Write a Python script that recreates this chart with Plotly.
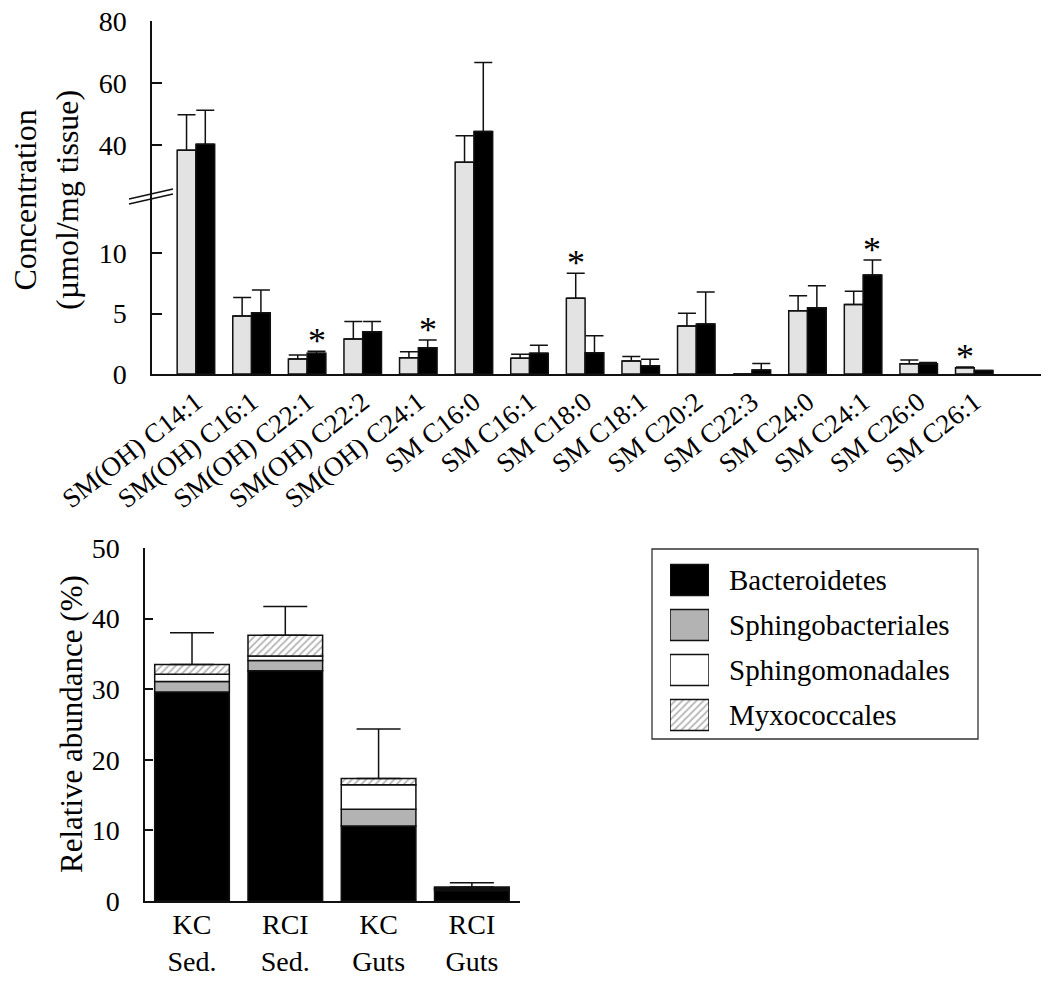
import plotly.graph_objects as go

# ---------------- data ----------------
lipids = ["SM(OH) C14:1", "SM(OH) C16:1", "SM(OH) C22:1", "SM(OH) C22:2", "SM(OH) C24:1",
          "SM C16:0", "SM C16:1", "SM C18:0", "SM C18:1", "SM C20:2", "SM C22:3",
          "SM C24:0", "SM C24:1", "SM C26:0", "SM C26:1"]
grey_vals = [38.3, 4.8, 1.24, 2.9, 1.35, 34.5, 1.3, 6.27, 1.08, 3.98, 0.0, 5.25, 5.75, 0.85, 0.52]
grey_err = [11.5, 1.53, 0.33, 1.46, 0.5, 8.5, 0.33, 2.07, 0.38, 1.05, 0.0, 1.24, 1.1, 0.3, 0.05]
black_vals = [40.3, 5.08, 1.71, 3.5, 2.18, 44.4, 1.71, 1.77, 0.69, 4.14, 0.33, 5.5, 8.2, 0.85, 0.28]
black_err = [10.9, 1.88, 0.17, 0.86, 0.64, 22.2, 0.67, 1.41, 0.53, 2.66, 0.53, 1.82, 1.25, 0.1, 0.0]
sig_lipids = ["SM(OH) C22:1", "SM(OH) C24:1", "SM C18:0", "SM C24:1", "SM C26:1"]
sig_series = ["black", "black", "grey", "black", "grey"]
top_lower_ticks = [0, 5, 10]
top_upper_ticks = [40, 60, 80]

sites = ["KC<br>Sed.", "RCI<br>Sed.", "KC<br>Guts", "RCI<br>Guts"]
bacteroidetes = [29.6, 32.6, 10.64, 1.5]
sphingobacteriales = [1.5, 1.45, 2.37, 0.2]
sphingomonadales = [1.0, 0.65, 3.45, 0.15]
myxococcales = [1.4, 2.95, 0.9, 0.15]
total_err = [4.5, 4.05, 7.0, 0.6]
taxa = ["Bacteroidetes", "Sphingobacteriales", "Sphingomonadales", "Myxococcales"]
bottom_ticks = [0, 10, 20, 30, 40, 50]

# ---------------- helpers ----------------
W, H = 1050, 985
def px(x):
    return x / W
def py(y):
    return 1 - y / H

FONT = "Liberation Serif"
LINE = "#111111"
GREY_LIGHT = "#e3e3e3"
GREY_MID = "#b3b3b3"

fig = go.Figure()

# ---------------- top panel (broken axis: y lower, y2 upper) ----------------
bw = 0.3375
for yax in ["y", "y2"]:
    fig.add_trace(go.Bar(
        x=lipids, y=grey_vals, xaxis="x", yaxis=yax, width=bw, offset=-bw,
        marker=dict(color=GREY_LIGHT, line=dict(color=LINE, width=1.5)),
        error_y=dict(type="data", symmetric=False, array=grey_err,
                     arrayminus=[0] * len(grey_err), color=LINE, thickness=1.5, width=9),
        showlegend=False, hoverinfo="skip"))
    fig.add_trace(go.Bar(
        x=lipids, y=black_vals, xaxis="x", yaxis=yax, width=bw, offset=0,
        marker=dict(color="#000000", line=dict(color=LINE, width=1.5)),
        error_y=dict(type="data", symmetric=False, array=black_err,
                     arrayminus=[0] * len(black_err), color=LINE, thickness=1.5, width=9),
        showlegend=False, hoverinfo="skip"))

# significance asterisks
for lip, ser in zip(sig_lipids, sig_series):
    i = lipids.index(lip)
    if ser == "grey":
        xpos, ytop = i - bw / 2, grey_vals[i] + grey_err[i]
    else:
        xpos, ytop = i + bw / 2, black_vals[i] + black_err[i]
    fig.add_annotation(x=xpos, y=ytop, xref="x", yref="y", text="*", showarrow=False,
                       xanchor="center", yanchor="bottom", yshift=-12,
                       font=dict(family=FONT, size=36, color="#000"))

# ---------------- bottom panel (stacked) ----------------
series = [
    (bacteroidetes, dict(color="#000000")),
    (sphingobacteriales, dict(color=GREY_MID)),
    (sphingomonadales, dict(color="#ffffff")),
    (myxococcales, dict(color="#ffffff",
                        pattern=dict(shape="/", fgcolor="#6e6e6e", bgcolor="#ffffff",
                                     size=5, solidity=0.35))),
]
base = [0.0] * len(sites)
for k, (vals, mk) in enumerate(series):
    is_top = (k == len(series) - 1)
    fig.add_trace(go.Bar(
        x=sites, y=vals, base=list(base), xaxis="x2", yaxis="y3", width=0.8, offset=-0.4,
        marker=dict(line=dict(color=LINE, width=1.5), **mk),
        error_y=(dict(type="data", symmetric=False, array=total_err,
                      arrayminus=[0] * len(total_err), color=LINE, thickness=1.5, width=22)
                 if is_top else dict(visible=False)),
        name=taxa[k], showlegend=False, hoverinfo="skip"))
    base = [b + v for b, v in zip(base, vals)]

# ---------------- custom legend (swatches on hidden axis) ----------------
for k, (vals, mk) in enumerate(series):
    fig.add_trace(go.Bar(
        x=[1], y=[k], base=0, orientation="h", xaxis="x3", yaxis="y4", width=0.69,
        marker=dict(line=dict(color=LINE, width=1.5), **mk),
        showlegend=False, hoverinfo="skip"))
    fig.add_annotation(x=px(727), y=k, xref="paper", yref="y4", text=taxa[k],
                       showarrow=False, xanchor="left", yanchor="middle",
                       font=dict(family=FONT, size=29, color="#000"))

# legend box
fig.add_shape(type="rect", xref="paper", yref="paper",
              x0=px(652), x1=px(978), y0=py(739), y1=py(549),
              line=dict(color="#333333", width=1.3), fillcolor="rgba(0,0,0,0)", layer="below")

# axis break marks
for dy in (0, 5):
    fig.add_shape(type="line", xref="paper", yref="paper",
                  x0=px(129), y0=py(204 - dy), x1=px(173), y1=py(194 - dy),
                  line=dict(color=LINE, width=1.5))

# y titles
fig.add_annotation(x=px(46), y=py(200), xref="paper", yref="paper",
                   text="Concentration<br>(µmol/mg tissue)", textangle=-90, showarrow=False,
                   xanchor="center", yanchor="middle",
                   font=dict(family=FONT, size=32, color="#000"))
fig.add_annotation(x=px(71), y=py(724), xref="paper", yref="paper",
                   text="Relative abundance (%)", textangle=-90, showarrow=False,
                   xanchor="center", yanchor="middle",
                   font=dict(family=FONT, size=31, color="#000"))

tickfont = dict(family=FONT, size=28, color="#000")
common_y = dict(showgrid=False, zeroline=False, showline=True, linecolor=LINE, linewidth=1.5,
                ticks="inside", ticklen=10, tickwidth=1.5, tickcolor=LINE, tickfont=tickfont,
                ticklabelstandoff=18, automargin=False)

fig.update_layout(
    width=W, height=H,
    margin=dict(l=0, r=0, t=0, b=0, autoexpand=False),
    paper_bgcolor="white", plot_bgcolor="white",
    barmode="overlay",
    showlegend=False,
    font=dict(family=FONT, color="#000"),
    xaxis=dict(domain=[px(152), px(1041)], anchor="y", range=[-0.79, 15.2], automargin=False,
               showgrid=False, zeroline=False, showline=True, linecolor=LINE, linewidth=1.5,
               ticks="", tickangle=-38, tickfont=dict(family=FONT, size=27, color="#000")),
    yaxis=dict(domain=[py(374), py(200)], anchor="x", range=[0, 14.42],
               tickvals=top_lower_ticks, **common_y),
    yaxis2=dict(domain=[py(200), py(21)], anchor="x", range=[22.3, 80],
                tickvals=top_upper_ticks, **common_y),
    xaxis2=dict(domain=[px(145), px(520)], anchor="y3", range=[-0.504, 3.516], automargin=False,
                showgrid=False, zeroline=False, showline=True, linecolor=LINE, linewidth=1.5,
                ticks="", ticklabelstandoff=-2,
                tickfont=dict(family=FONT, size=28, color="#000")),
    yaxis3=dict(domain=[py(901), py(548)], anchor="x2", range=[0, 50],
                tickvals=bottom_ticks, **dict(common_y, ticklen=8)),
    xaxis3=dict(domain=[px(670), px(709)], anchor="y4", range=[0, 1], visible=False,
                automargin=False),
    yaxis4=dict(domain=[py(737.5), py(557.5)], anchor="x3", range=[3.5, -0.5], visible=False,
                automargin=False),
)

fig.write_html("out.html", config={"displayModeBar": False},
               post_script="document.body.style.margin='0';document.body.style.overflow='hidden';")
